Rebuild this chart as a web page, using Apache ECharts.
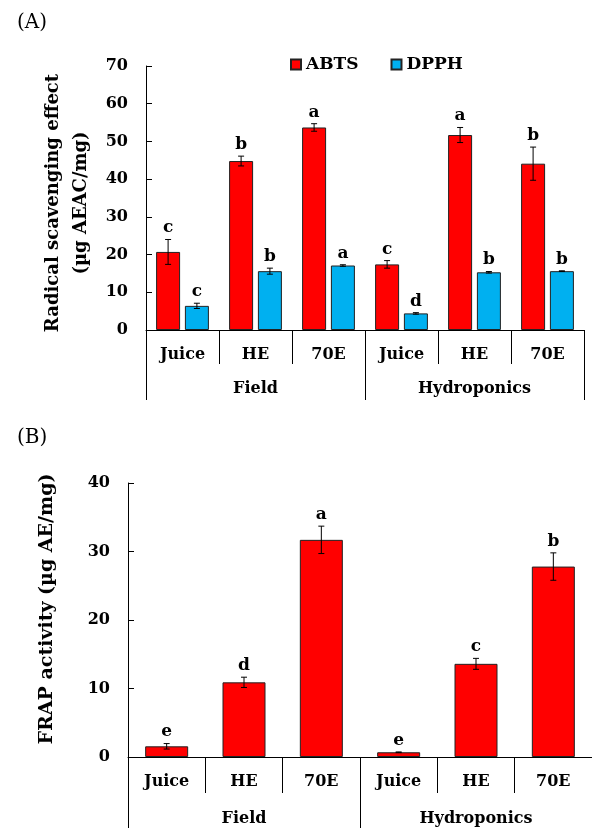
<!DOCTYPE html>
<html>
<head>
<meta charset="utf-8">
<script src="https://cdn.jsdelivr.net/npm/echarts@6/dist/echarts.min.js"></script>
<style>
  html, body { margin: 0; padding: 0; background: #fff; }
  #chart { width: 592px; height: 828px; }
</style>
</head>
<body>
<div id="chart"></div>
<script>
// categories
const categories = ['Juice', 'HE', '70E', 'Juice', 'HE', '70E']
const groups = ['Field', 'Hydroponics']

// (A) radical scavenging, µg AEAC/mg
const abts = [20.7, 44.8, 53.7, 17.4, 51.7, 44.1]
const abtsErr = [3.3, 1.3, 1.0, 1.0, 2.0, 4.4]
const abtsSig = ['c', 'b', 'a', 'c', 'a', 'b']
const dpph = [6.4, 15.6, 17.1, 4.4, 15.3, 15.6]
const dpphErr = [0.7, 0.8, 0.2, 0.2, 0.2, 0.1]
const dpphSig = ['c', 'b', 'a', 'd', 'b', 'b']

// (B) FRAP, µg AE/mg
const frap = [1.56, 10.9, 31.7, 0.69, 13.6, 27.8]
const frapErr = [0.4, 0.75, 2.0, 0.05, 0.8, 2.0]
const frapSig = ['e', 'd', 'a', 'e', 'c', 'b']

// y axis ranges
const yMaxA = 70
const yMaxB = 40
const yStep = 10

const FONT = '"DejaVu Serif", serif'
const RED = '#FF0000'
const BLUE = '#00B0F0'

const chart = echarts.init(document.getElementById('chart'))

// error bar + significance letter, drawn with the axis scales
function errorBars(vals, errs, sigs, gridIdx, shift) {
  return {
    type: 'custom',
    xAxisIndex: gridIdx * 2,
    yAxisIndex: gridIdx,
    z: 5,
    silent: true,
    data: vals.map((v, i) => [i, v, errs[i]]),
    renderItem(params, api) {
      const i = api.value(0)
      const v = api.value(1)
      const e = api.value(2)
      const top = api.coord([i, v + e])
      const bot = api.coord([i, v - e])
      const x = top[0] + shift
      const cap = 3
      const line = { stroke: '#000', lineWidth: 1 }
      return {
        type: 'group',
        children: [
          { type: 'line', shape: { x1: x, y1: top[1], x2: x, y2: bot[1] }, style: line },
          { type: 'line', shape: { x1: x - cap, y1: top[1], x2: x + cap, y2: top[1] }, style: line },
          { type: 'line', shape: { x1: x - cap, y1: bot[1], x2: x + cap, y2: bot[1] }, style: line },
          {
            type: 'text',
            style: {
              text: sigs[params.dataIndex],
              x: x,
              y: top[1] - 3,
              align: 'center',
              verticalAlign: 'bottom',
              font: 'bold 17px ' + FONT,
              fill: '#000'
            }
          }
        ]
      }
    }
  }
}

function catAxis(gridIdx) {
  return {
    type: 'category',
    gridIndex: gridIdx,
    data: categories,
    position: 'bottom',
    axisLine: { show: true, onZero: false, lineStyle: { color: '#000', width: 1 } },
    axisTick: { show: true, interval: 0, length: gridIdx === 0 ? 34 : 36, lineStyle: { color: '#000', width: 1 } },
    axisLabel: { color: '#000', fontFamily: FONT, fontWeight: 'bold', fontSize: 16, margin: 17 }
  }
}

function groupAxis(gridIdx) {
  return {
    type: 'category',
    gridIndex: gridIdx,
    data: groups,
    position: 'bottom',
    axisLine: { show: false, onZero: false },
    axisTick: { show: true, interval: 0, length: gridIdx === 0 ? 70 : 80, lineStyle: { color: '#000', width: 1 } },
    axisLabel: { color: '#000', fontFamily: FONT, fontWeight: 'bold', fontSize: 16, margin: gridIdx === 0 ? 51 : 54 }
  }
}

function valAxis(gridIdx, max, name, gap, pad) {
  return {
    type: 'value',
    gridIndex: gridIdx,
    min: 0,
    max: max,
    interval: yStep,
    name: name,
    nameLocation: 'middle',
    nameRotate: 90,
    nameGap: gap,
    nameTextStyle: {
      color: '#000', fontFamily: FONT, fontWeight: 'bold',
      fontSize: gridIdx === 0 ? 18 : 19, lineHeight: 28, padding: pad
    },
    splitLine: { show: false },
    axisLine: { show: true, lineStyle: { color: '#000', width: 1 } },
    axisTick: { show: true, inside: true, length: 6, lineStyle: { color: '#000' } },
    axisLabel: { color: '#000', fontFamily: FONT, fontWeight: 'bold', fontSize: 16, margin: 18 }
  }
}

const barBorder = { borderColor: '#222', borderWidth: 1 }

chart.setOption({
  animation: false,
  title: [
    { text: '(A)', left: 12, top: 8, textStyle: { fontFamily: FONT, fontWeight: 'normal', fontSize: 20, color: '#000' } },
    { text: '(B)', left: 12, top: 423, textStyle: { fontFamily: FONT, fontWeight: 'normal', fontSize: 20, color: '#000' } }
  ],
  legend: {
    top: 51,
    left: 285,
    itemWidth: 10,
    itemHeight: 10,
    itemGap: 32,
    icon: 'rect',
    textStyle: { color: '#000', fontFamily: FONT, fontWeight: 'bold', fontSize: 17 },
    data: ['ABTS', 'DPPH']
  },
  grid: [
    { left: 146, top: 66, width: 438, height: 264 },
    { left: 128, top: 483, width: 468, height: 274 }
  ],
  xAxis: [catAxis(0), groupAxis(0), catAxis(1), groupAxis(1)],
  yAxis: [
    valAxis(0, yMaxA, 'Radical scavenging effect\n(µg AEAC/mg)', 47, [0, 10, 0, 0]),
    valAxis(1, yMaxB, 'FRAP activity (µg AE/mg)', 67, [0, 0, 0, 22])
  ],
  series: [
    {
      name: 'ABTS', type: 'bar', xAxisIndex: 0, yAxisIndex: 0,
      barWidth: 24, barGap: '20%',
      itemStyle: Object.assign({ color: RED }, barBorder),
      data: abts
    },
    {
      name: 'DPPH', type: 'bar', xAxisIndex: 0, yAxisIndex: 0,
      barWidth: 24, barGap: '20%',
      itemStyle: Object.assign({ color: BLUE }, barBorder),
      data: dpph
    },
    errorBars(abts, abtsErr, abtsSig, 0, -14.4),
    errorBars(dpph, dpphErr, dpphSig, 0, 14.4),
    {
      name: 'FRAP', type: 'bar', xAxisIndex: 2, yAxisIndex: 1,
      barWidth: 43,
      itemStyle: Object.assign({ color: RED }, barBorder),
      data: frap
    },
    errorBars(frap, frapErr, frapSig, 1, 0)
  ]
})
</script>
</body>
</html>
